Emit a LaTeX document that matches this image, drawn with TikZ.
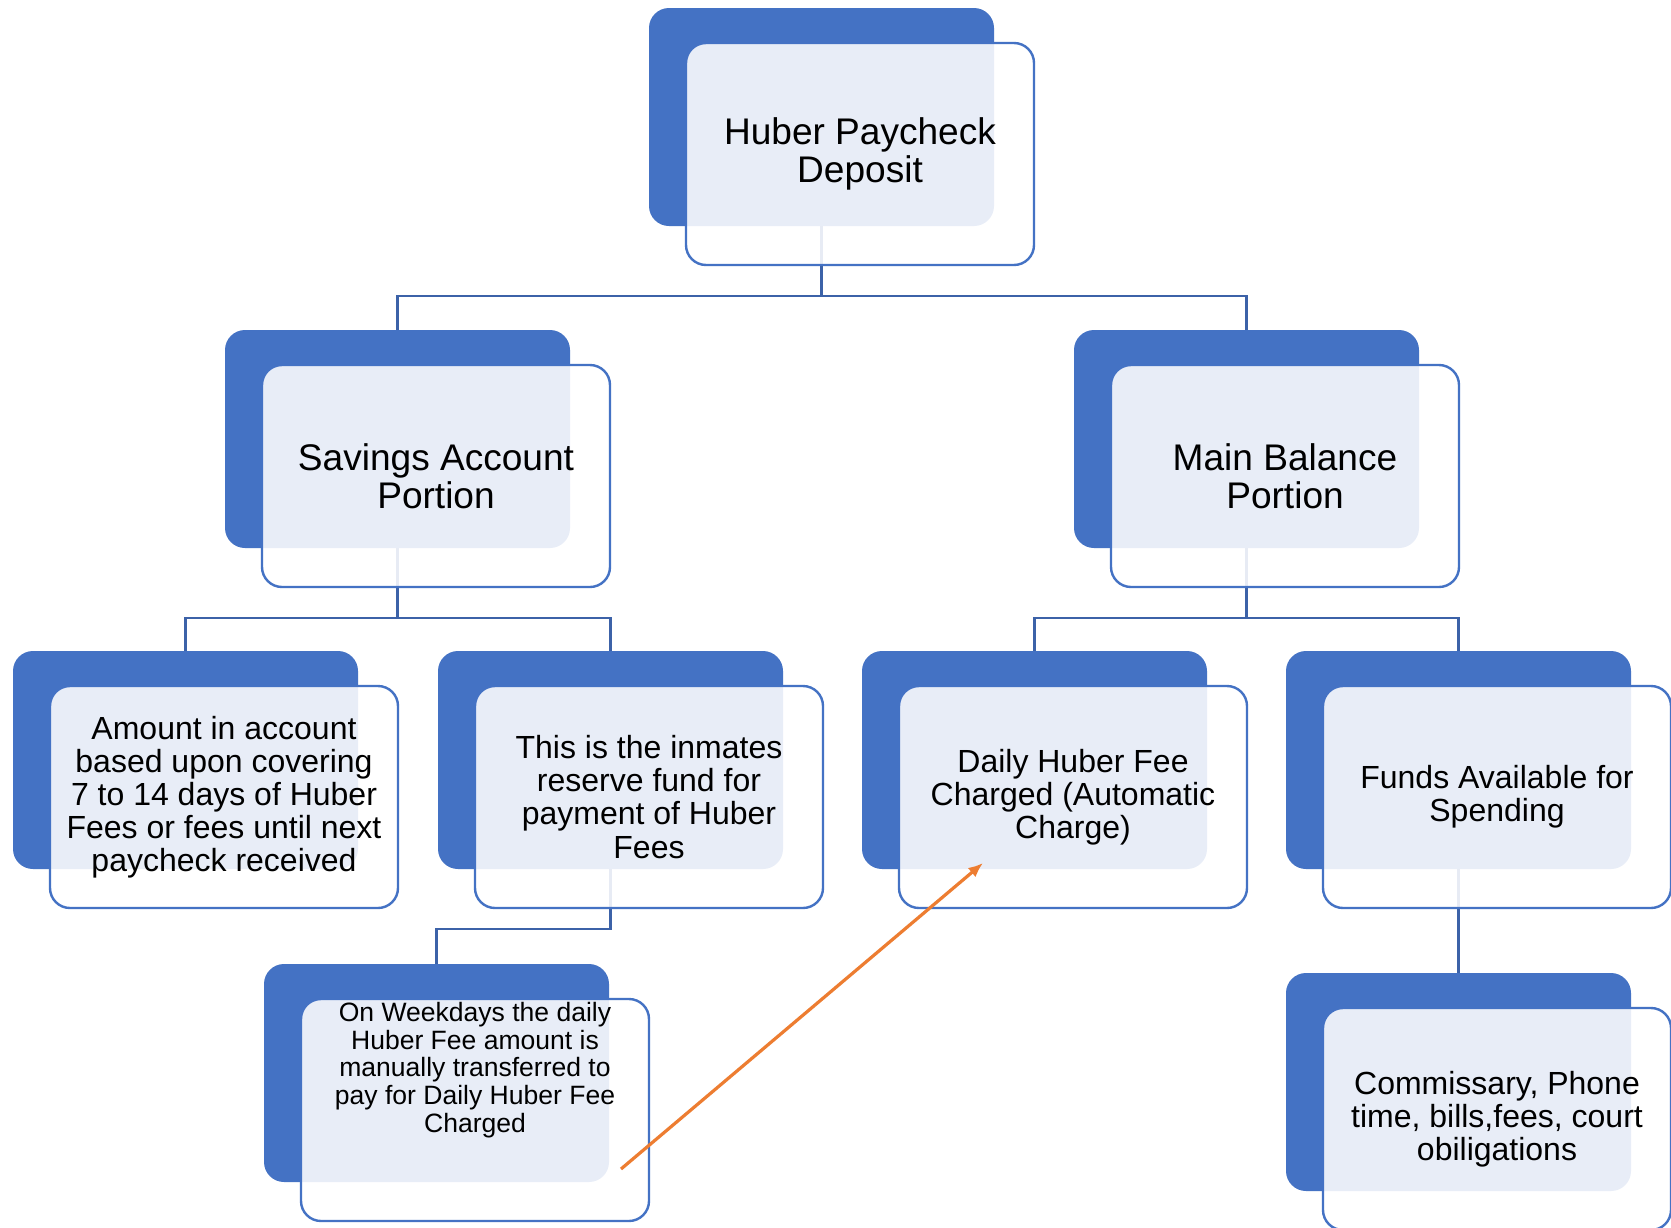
\documentclass[tikz,border=0pt]{standalone}
\usepackage{fontspec}
\setmainfont{Liberation Sans}
\usepackage{xcolor}
\usepackage{tikz}
\usetikzlibrary{arrows.meta}

\definecolor{accent}{HTML}{4472C4}
\definecolor{linkblue}{HTML}{3C62A8}
\definecolor{feeorange}{HTML}{ED7D31}

\newcommand{\bigtext}{\fontsize{27.8}{28.8}\selectfont}
\newcommand{\midtext}{\fontsize{24}{24.8}\selectfont}
\newcommand{\smalltext}{\fontsize{19.9}{20.8}\selectfont}

\begin{document}
\begin{tikzpicture}[x=0.75pt, y=-0.75pt,
		back/.style={fill=accent, rounded corners=15pt, minimum width=258.75pt, minimum height=163.5pt, inner sep=0pt},
		front/.style={draw=accent, line width=1.8pt, fill=white, fill opacity=0.88, text opacity=1,
			rounded corners=15pt, minimum width=261pt, minimum height=166.5pt, inner sep=0pt, align=center, font=\midtext},
		link/.style={draw=linkblue, line width=1.7pt},
		feeline/.style={draw=feeorange, line width=2.4pt, -{Latex[length=11pt, width=9pt]}}]
			\fill[white] (0,0) rectangle (1671,1228);
			\useasboundingbox (0,0) rectangle (1671,1228);

			% coloured backs
			\node[back] (deposit) at (821.5,117) {};
			\node[back] (savings) at (397.5,439) {};
			\node[back] (main) at (1246.5,439) {};
			\node[back] (amount) at (185.5,760) {};
			\node[back] (reserve) at (610.5,760) {};
			\node[back] (daily) at (1034.5,760) {};
			\node[back] (funds) at (1458.5,760) {};
			\node[back] (weekdays) at (436.5,1073) {};
			\node[back] (commissary) at (1458.5,1082) {};

			% tree lines
			\draw[link] (deposit.south) -- ++(0,70) -| (savings.north);
			\draw[link] (deposit.south) -- ++(0,70) -| (main.north);
			\draw[link] (savings.south) -- ++(0,70) -| (amount.north);
			\draw[link] (savings.south) -- ++(0,70) -| (reserve.north);
			\draw[link] (main.south) -- ++(0,70) -| (daily.north);
			\draw[link] (main.south) -- ++(0,70) -| (funds.north);
			\draw[link] (reserve.south) -- ++(0,60) -| (weekdays.north);
			\draw[link] (funds.south) -- (commissary.north);

			% text boxes
			\node[front, font=\bigtext] (deposit-box) at (860,154) {Huber Paycheck\\Deposit};
			\node[front, font=\bigtext] (savings-box) at (436,476) {Savings Account\\Portion};
			\node[front, font=\bigtext] (main-box) at (1285,476) {Main Balance\\Portion};
			\node[front] (amount-box) at (224,797) {Amount in account\\based upon covering\\7 to 14 days of Huber\\Fees or fees until next\\paycheck received};
			\node[front] (reserve-box) at (649,797) {This is the inmates\\reserve fund for\\payment of Huber\\Fees};
			\node[front] (daily-box) at (1073,797) {Daily Huber Fee\\Charged (Automatic\\Charge)};
			\node[front] (funds-box) at (1497,797) {Funds Available for\\Spending};
			\node[front] (weekdays-box) at (475,1110) {};
			\node[align=center, font=\smalltext] (weekdays-text) at (475,1070) {On Weekdays the daily\\Huber Fee amount is\\manually transferred to\\pay for Daily Huber Fee\\Charged};
			\node[front] (commissary-box) at (1497,1119) {Commissary, Phone\\time, bills,fees, court\\obiligations};

			% manual transfer
			\coordinate (weekdays-out) at (621,1169);
			\coordinate (daily-in) at (983,863);
			\draw[feeline] (weekdays-out) -- (daily-in);
		\end{tikzpicture}
\end{document}
